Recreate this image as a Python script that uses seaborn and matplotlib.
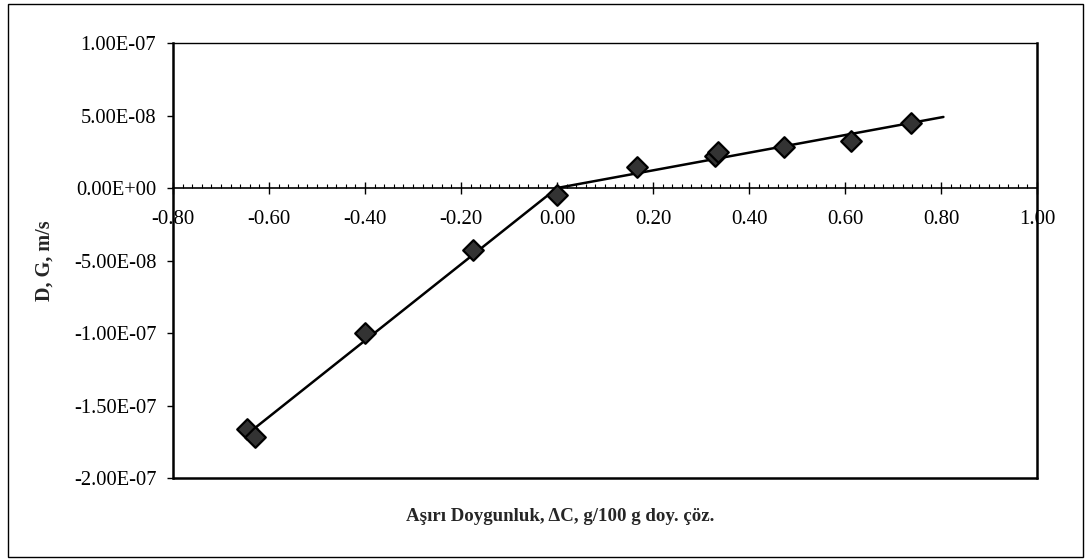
import numpy as np
import pandas as pd
import seaborn as sns
import matplotlib.pyplot as plt
from matplotlib.ticker import MultipleLocator, FuncFormatter
from matplotlib.patches import Rectangle

# measured points: supersaturation (g/100 g sat. soln) vs dissolution / growth rate (m/s)
delta_c = [-0.645, -0.630, -0.400, -0.176, 0.000, 0.166, 0.329, 0.335, 0.472, 0.613, 0.737]
rate = [-1.66e-7, -1.72e-7, -1.00e-7, -4.30e-8, -5.0e-9, 1.45e-8, 2.20e-8, 2.45e-8, 2.85e-8, 3.25e-8, 4.45e-8]

# fitted lines (dissolution branch and growth branch meet at the origin)
fit_x = [-0.635, 0.0, 0.805]
fit_y = [-1.67e-7, 0.0, 4.90e-8]

x_ticks = [-0.80, -0.60, -0.40, -0.20, 0.00, 0.20, 0.40, 0.60, 0.80, 1.00]
y_ticks = [-2.0e-7, -1.5e-7, -1.0e-7, -5.0e-8, 0.0, 5.0e-8, 1.0e-7]

df_points = pd.DataFrame({"dc": delta_c, "rate": rate})
df_fit = pd.DataFrame({"dc": fit_x, "rate": fit_y})

sns.set_style("white")
plt.rcParams["font.family"] = ["Liberation Serif", "DejaVu Serif"]

fig = plt.figure(figsize=(10.86, 5.6), dpi=100)
ax = fig.add_axes([0.1593, 0.1464, 0.7956, 0.7768])

# fit line and the points
sns.lineplot(data=df_fit, x="dc", y="rate", ax=ax, color="black", linewidth=1.8,
             sort=False, estimator=None, zorder=2)
sns.scatterplot(data=df_points, x="dc", y="rate", ax=ax, marker="D", s=110,
                color="#333333", edgecolor="black", linewidth=1.6, zorder=3)

ax.set_xlim(-0.80, 1.00)
ax.set_ylim(-2.0e-7, 1.0e-7)
ax.set_xticks(x_ticks)
ax.set_yticks(y_ticks)
ax.xaxis.set_minor_locator(MultipleLocator(0.02))
ax.xaxis.set_major_formatter(FuncFormatter(lambda v, p: f"{v:.2f}"))
ax.yaxis.set_major_formatter(FuncFormatter(lambda v, p: f"{v:.2E}"))

# x axis crosses at zero, the box stays around the plot area
ax.spines["bottom"].set_position(("data", 0))
for side in ["left", "right", "top", "bottom"]:
    ax.spines[side].set_visible(True)
    ax.spines[side].set_color("black")
ax.spines["left"].set_linewidth(1.8)
ax.spines["right"].set_linewidth(1.8)
ax.spines["top"].set_linewidth(1.0)
ax.spines["bottom"].set_linewidth(1.2)
ax.plot([0, 1], [0, 0], transform=ax.transAxes, color="black", linewidth=1.8,
        clip_on=False, zorder=4)

ax.tick_params(axis="x", which="major", direction="inout", length=8, width=1,
               pad=12, labelsize=15, colors="black", bottom=True)
ax.tick_params(axis="x", which="minor", direction="in", length=3, width=0.8,
               colors="black", bottom=True)
ax.tick_params(axis="y", which="major", direction="out", length=4, width=1,
               pad=8, labelsize=14.8, left=True, colors="black")

ax.set_xlabel("")
ax.set_ylabel("D, G, m/s", fontsize=14.5, fontweight="bold", labelpad=14)
fig.text(0.5157, 0.077, "Aşırı Doygunluk, ΔC, g/100 g doy. çöz.", ha="center",
         va="center", fontsize=13.6, fontweight="bold")

# outer chart border
fig.patches.append(Rectangle((0.0074, 0.0054), 0.990, 0.9875, transform=fig.transFigure,
                             fill=False, edgecolor="black", linewidth=1.0))

fig.savefig("out.png", dpi=100)
